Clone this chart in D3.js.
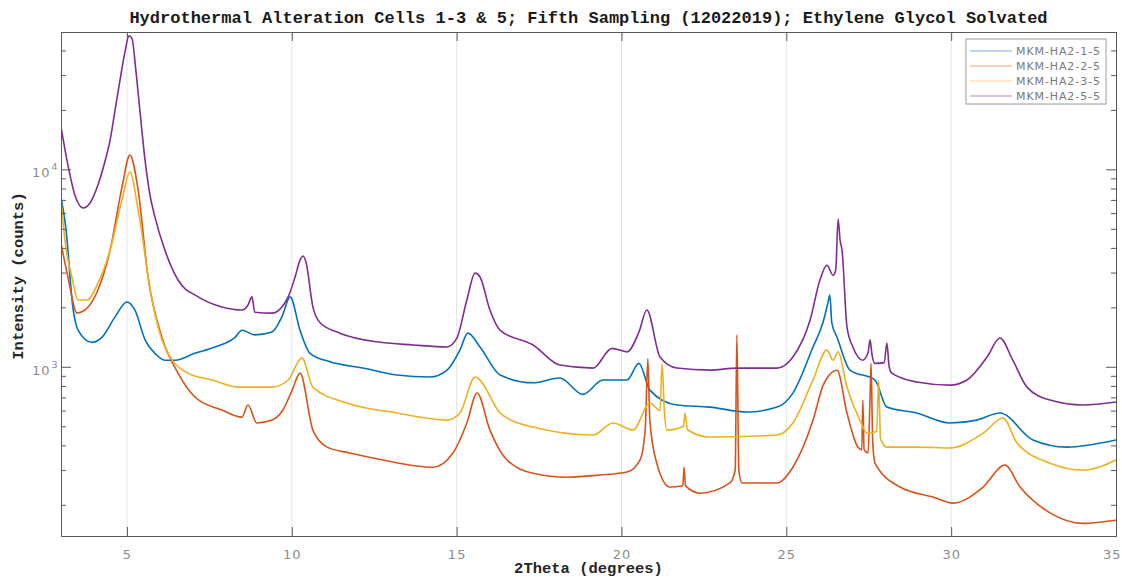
<!DOCTYPE html>
<html>
<head>
<meta charset="utf-8">
<script src="https://cdn.jsdelivr.net/npm/d3@7"></script>
<style>
  body { margin: 0; background: #fff; }
</style>
</head>
<body>
<div id="xrd"></div>
<script>
// 2Theta (deg), intensity (counts)
const HA2_1_5 = [
    [3.00, 7240], [3.15, 5000], [3.36, 2000], [3.52, 1530], [3.94, 1330], [4.24, 1410],
    [4.64, 1790], [5.00, 2130], [5.24, 1940], [5.55, 1370], [5.85, 1170], [6.15, 1080],
    [6.46, 1080], [7.06, 1170], [7.67, 1260], [8.28, 1410], [8.49, 1530], [8.88, 1450],
    [9.40, 1500], [9.70, 1790], [9.95, 2260], [10.25, 1530], [10.55, 1170], [11.16, 1060],
    [12.16, 985], [13.19, 908], [14.19, 887], [14.71, 962], [15.10, 1215], [15.34, 1480],
    [15.71, 1260], [16.32, 908], [17.32, 830], [18.13, 877], [18.83, 725], [19.44, 857],
    [20.17, 857], [20.53, 1040], [20.86, 762], [21.68, 640], [22.68, 625], [23.81, 590],
    [24.72, 625], [25.20, 736], [25.81, 1260], [26.11, 1670], [26.26, 2100], [26.32, 2310],
    [26.38, 1670], [26.54, 1410], [26.93, 962], [27.69, 857], [28.05, 625], [28.96, 583],
    [29.96, 519], [30.78, 537], [31.48, 583], [32.48, 426], [33.51, 392], [35.00, 426]
];

const HA2_2_5 = [
    [3.00, 4230], [3.21, 2850], [3.49, 1870], [3.73, 1940], [4.12, 2450], [4.49, 3900],
    [4.85, 8130], [5.09, 11800], [5.34, 7850], [5.64, 2850], [6.06, 1410], [6.55, 929],
    [7.06, 703], [7.88, 604], [8.49, 556], [8.67, 640], [8.94, 519], [9.40, 537],
    [9.73, 604], [10.01, 760], [10.25, 929], [10.64, 478], [11.07, 392], [11.77, 366],
    [12.77, 337], [14.28, 310], [14.89, 366], [15.31, 519], [15.62, 736], [16.01, 478],
    [16.53, 337], [17.32, 289], [18.35, 276], [19.35, 283], [20.17, 293], [20.56, 337],
    [20.72, 480], [20.80, 1100], [20.86, 537], [21.07, 325], [21.47, 246], [21.86, 250],
    [21.90, 310], [21.94, 250], [22.38, 229], [23.29, 258], [23.45, 300], [23.50, 1450],
    [23.56, 300], [23.66, 258], [24.72, 258], [25.20, 310], [25.81, 537], [26.11, 800],
    [26.26, 890], [26.54, 960], [26.84, 583], [27.17, 392], [27.29, 380], [27.32, 678],
    [27.36, 380], [27.48, 366], [27.54, 700], [27.57, 1040], [27.62, 420], [27.69, 325],
    [28.45, 246], [29.45, 219], [30.06, 204], [30.97, 246], [31.63, 318], [32.09, 246],
    [33.00, 182], [34.00, 161], [35.00, 167]
];

const HA2_3_5 = [
    [3.00, 7000], [3.15, 4000], [3.33, 2850], [3.52, 2180], [3.79, 2180], [4.12, 2650],
    [4.49, 3900], [4.85, 7000], [5.09, 9690], [5.34, 6220], [5.76, 2180], [6.06, 1370],
    [6.37, 1080], [6.85, 929], [7.58, 857], [8.37, 789], [9.40, 789], [9.89, 857],
    [10.31, 1110], [10.64, 789], [11.67, 655], [13.19, 583], [14.71, 537], [15.10, 583],
    [15.56, 887], [15.71, 857], [16.32, 583], [17.32, 495], [19.14, 451], [19.74, 519],
    [20.35, 478], [20.86, 655], [21.17, 600], [21.23, 1040], [21.30, 600], [21.38, 478],
    [21.88, 500], [21.93, 583], [22.00, 480], [22.68, 441], [24.72, 451], [25.20, 519],
    [25.81, 857], [26.23, 1215], [26.42, 1080], [26.57, 1190], [26.84, 790], [27.23, 537],
    [27.45, 461], [27.74, 470], [27.80, 850], [27.86, 430], [28.05, 392], [28.96, 392],
    [29.96, 388], [30.97, 461], [31.57, 550], [32.00, 411], [33.00, 325], [34.00, 300],
    [35.00, 337]
];

const HA2_5_5 = [
    [3.00, 16400], [3.21, 10500], [3.42, 7410], [3.67, 6370], [3.88, 6750], [4.12, 8330],
    [4.33, 10900], [4.49, 14100], [4.64, 19950], [4.79, 28300], [4.94, 39300], [5.06, 47400],
    [5.15, 46200], [5.27, 31800], [5.40, 19300], [5.55, 11100], [5.70, 7410], [5.85, 5730],
    [6.15, 3900], [6.55, 2750], [7.16, 2260], [7.88, 2010], [8.49, 1940], [8.67, 2050],
    [8.79, 2260], [8.88, 1890], [9.40, 1870], [9.89, 2260], [10.10, 2850], [10.25, 3470],
    [10.34, 3640], [10.43, 3390], [10.64, 2010], [10.86, 1670], [11.46, 1480], [12.68, 1330],
    [13.68, 1290], [14.71, 1260], [15.01, 1400], [15.31, 2180], [15.56, 2980], [15.71, 2850],
    [16.01, 1940], [16.32, 1530], [17.32, 1290], [18.13, 1020], [19.14, 985], [19.71, 1240],
    [20.17, 1190], [20.53, 1500], [20.77, 1940], [21.17, 1120], [21.68, 985], [22.68, 962],
    [23.50, 985], [24.72, 985], [25.20, 1120], [25.72, 1720], [26.02, 2750], [26.23, 3270],
    [26.42, 2910], [26.50, 3100], [26.57, 5600], [26.63, 4390], [26.69, 3900], [26.84, 1590],
    [27.02, 1260], [27.32, 1080], [27.48, 1180], [27.54, 1370], [27.60, 1150], [27.69, 1040],
    [27.97, 1050], [28.05, 1320], [28.12, 1000], [28.20, 929], [28.96, 837], [29.96, 807],
    [30.48, 857], [31.09, 1120], [31.48, 1400], [31.87, 1080], [32.30, 789], [33.00, 678],
    [34.00, 640], [35.00, 663]
];

const NAMES = ["MKM-HA2-1-5", "MKM-HA2-2-5", "MKM-HA2-3-5", "MKM-HA2-5-5"];
const COLORS = ["#0072BD", "#D95319", "#EDB120", "#7E2F8E"];
const X_TICKS = [5, 10, 15, 20, 25, 30, 35];
const Y_MAJOR = [1000, 10000];
const Y_MINOR = [200, 300, 400, 500, 600, 700, 800, 900,
                 2000, 3000, 4000, 5000, 6000, 7000, 8000, 9000,
                 20000, 30000, 40000];

const width = 1122, height = 577;
const margin = { top: 32, right: 6, bottom: 41, left: 61 };
const plotW = width - margin.left - margin.right;
const plotH = height - margin.top - margin.bottom;

const svg = d3.select("#xrd")
    .append("svg")
    .attr("width", width)
    .attr("height", height)
    .style("background", "#fff");

const x = d3.scaleLinear().domain([3, 35]).range([0, plotW]);
const y = d3.scaleLog().domain([139, 49600]).range([plotH, 0]);

const g = svg.append("g")
    .attr("transform", `translate(${margin.left},${margin.top})`);

g.append("clipPath").attr("id", "clip")
    .append("rect").attr("width", plotW).attr("height", plotH);

// vertical grid
g.append("g")
    .selectAll("line")
    .data(X_TICKS.slice(0, -1))
    .enter().append("line")
    .attr("x1", d => x(d)).attr("x2", d => x(d))
    .attr("y1", 0).attr("y2", plotH)
    .attr("stroke", "#e3e3e3")
    .attr("stroke-width", 1);

// series
const line = d3.line()
    .x(d => x(d[0]))
    .y(d => y(d[1]))
    .curve(d3.curveMonotoneX);
const SERIES = [HA2_1_5, HA2_2_5, HA2_3_5, HA2_5_5];
g.append("g").attr("clip-path", "url(#clip)")
    .selectAll("path")
    .data(SERIES)
    .enter().append("path")
    .attr("d", line)
    .attr("fill", "none")
    .attr("stroke", (d, i) => COLORS[i])
    .attr("stroke-width", 1.6)
    .attr("stroke-linejoin", "round");

// axes (MATLAB-style box with inward ticks)
const axisColor = "#5a5a5a";
const labelColor = "#8c8c8c";

g.append("g")
    .attr("transform", `translate(0,${plotH})`)
    .call(d3.axisBottom(x).tickValues(X_TICKS).tickSize(-9).tickPadding(14).tickFormat(d3.format("d")))
    .call(s => s.select(".domain").attr("stroke", axisColor))
    .call(s => s.selectAll(".tick line").attr("stroke", axisColor))
    .call(s => s.selectAll(".tick text")
        .filter(d => d === 35)
        .attr("text-anchor", "end")
        .attr("dx", 5))
    .selectAll("text")
    .attr("fill", labelColor)
    .style("font-family", "DejaVu Sans, sans-serif")
    .style("font-size", "13px")
    .style("letter-spacing", "1px");

g.append("g")
    .call(d3.axisTop(x).tickValues(X_TICKS).tickSize(-9).tickFormat(""))
    .call(s => s.select(".domain").attr("stroke", axisColor))
    .call(s => s.selectAll(".tick line").attr("stroke", axisColor));

g.append("g")
    .call(d3.axisLeft(y).tickValues(Y_MAJOR).tickSize(-10).tickFormat(""))
    .call(s => s.select(".domain").attr("stroke", axisColor))
    .call(s => s.selectAll(".tick line").attr("stroke", axisColor));

g.append("g")
    .call(d3.axisLeft(y).tickValues(Y_MINOR).tickSize(-5).tickFormat(""))
    .call(s => s.select(".domain").remove())
    .call(s => s.selectAll(".tick line").attr("stroke", axisColor));

g.append("g")
    .attr("transform", `translate(${plotW},0)`)
    .call(d3.axisRight(y).tickValues(Y_MAJOR).tickSize(-10).tickFormat(""))
    .call(s => s.select(".domain").attr("stroke", axisColor))
    .call(s => s.selectAll(".tick line").attr("stroke", axisColor));

g.append("g")
    .attr("transform", `translate(${plotW},0)`)
    .call(d3.axisRight(y).tickValues(Y_MINOR).tickSize(-5).tickFormat(""))
    .call(s => s.select(".domain").remove())
    .call(s => s.selectAll(".tick line").attr("stroke", axisColor));

// 10^n labels
const yLab = g.append("g").selectAll("text")
    .data(Y_MAJOR)
    .enter().append("text")
    .attr("x", -29)
    .attr("y", d => y(d) + 8)
    .attr("fill", labelColor)
    .attr("text-anchor", "start")
    .style("font-family", "DejaVu Sans, sans-serif")
    .style("font-size", "13px")
    .style("letter-spacing", "1px");
yLab.append("tspan").text("10");
yLab.append("tspan")
    .attr("dx", 1).attr("dy", -7)
    .style("font-size", "9.5px")
    .text(d => Math.round(Math.log10(d)));

// titles
svg.append("text")
    .attr("x", margin.left + plotW / 2)
    .attr("y", 23)
    .attr("text-anchor", "middle")
    .attr("fill", "#1a1a1a")
    .style("font-family", "Liberation Mono, monospace")
    .style("font-weight", 700)
    .style("font-size", "17px")
    .text("Hydrothermal Alteration Cells 1-3 & 5; Fifth Sampling (12022019); Ethylene Glycol Solvated");

svg.append("text")
    .attr("x", margin.left + plotW / 2)
    .attr("y", 573)
    .attr("text-anchor", "middle")
    .attr("fill", "#262626")
    .style("font-family", "Liberation Mono, monospace")
    .style("font-weight", 700)
    .style("font-size", "15.5px")
    .text("2Theta (degrees)");

svg.append("text")
    .attr("transform", `translate(23,${margin.top + 244}) rotate(-90)`)
    .attr("text-anchor", "middle")
    .attr("fill", "#262626")
    .style("font-family", "Liberation Mono, monospace")
    .style("font-weight", 700)
    .style("font-size", "15.5px")
    .text("Intensity (counts)");

// legend
const lg = svg.append("g").attr("transform", "translate(966,39)");
lg.append("rect")
    .attr("width", 140).attr("height", 65)
    .attr("fill", "#fff")
    .attr("stroke", "#9a9a9a")
    .attr("stroke-width", 1);

const items = lg.selectAll("g.item")
    .data(NAMES)
    .enter().append("g")
    .attr("class", "item")
    .attr("transform", (d, i) => `translate(0,${12 + i * 15})`);

items.append("line")
    .attr("x1", 4).attr("x2", 46)
    .attr("stroke", (d, i) => COLORS[i])
    .attr("stroke-opacity", 0.55)
    .attr("stroke-width", 1);

items.append("text")
    .attr("x", 50).attr("y", 4)
    .attr("fill", "#7a7a7a")
    .style("font-family", "DejaVu Sans, sans-serif")
    .style("font-size", "11px")
    .style("letter-spacing", "0.9px")
    .text(d => d);
</script>
</body>
</html>
